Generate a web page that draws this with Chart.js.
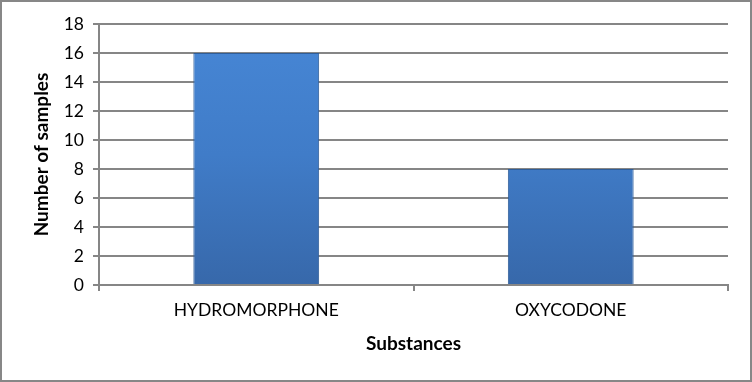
<!DOCTYPE html>
<html>
<head>
<meta charset="utf-8">
<script src="https://cdn.jsdelivr.net/npm/chart.js@4"></script>
<style>
  html, body { margin: 0; padding: 0; background: #fff; }
  #wrap { position: relative; width: 752px; height: 382px; box-sizing: border-box; border: 2px solid #878787; }
  canvas { position: absolute; left: -2px; top: -2px; }
</style>
</head>
<body>
<div id="wrap"><canvas id="chart" width="752" height="382"></canvas></div>
<script>
// Values
const substances = ['HYDROMORPHONE', 'OXYCODONE'];
const sampleCounts = [16, 8];
const yTicks = [0, 2, 4, 6, 8, 10, 12, 14, 16, 18];

const FONT = 'Lato, Carlito, Calibri, sans-serif';
const GRID = '#868686';

// Vertical gradient fill similar to the Excel bar style
function barFill(context) {
  const { chart } = context;
  const area = chart.chartArea;
  if (!area) return '#4080d0';
  const g = chart.ctx.createLinearGradient(0, area.top, 0, area.bottom);
  g.addColorStop(0, '#4787d6');
  g.addColorStop(0.5, '#407cc8');
  g.addColorStop(1, '#3768aa');
  return g;
}

const ctx = document.getElementById('chart').getContext('2d');

new Chart(ctx, {
  type: 'bar',
  data: {
    labels: substances,
    datasets: [{
      data: sampleCounts,
      backgroundColor: barFill,
      borderColor: '#2f5d98',
      borderWidth: 1,
      barPercentage: 0.8,
      categoryPercentage: 0.5,
    }],
  },
  options: {
    responsive: false,
    animation: false,
    layout: { padding: { top: 24, right: 24, left: 0, bottom: 0 } },
    plugins: {
      legend: { display: false },
      tooltip: { enabled: false },
    },
    scales: {
      x: {
        offset: true,
        afterFit: (scale) => { scale.height = 97; },
        grid: {
          offset: true,
          drawOnChartArea: false,
          drawTicks: true,
          tickLength: 6,
          color: GRID,
          lineWidth: 2,
        },
        border: { color: GRID, width: 2 },
        ticks: {
          padding: 9,
          color: '#000',
          font: { family: FONT, size: 17.5 },
          maxRotation: 0,
        },
        title: {
          display: true,
          text: 'Substances',
          color: '#000',
          font: { family: FONT, size: 19, weight: 'bold' },
          padding: { top: 0, bottom: 27 },
        },
      },
      y: {
        min: 0,
        max: 18,
        afterFit: (scale) => { scale.width = 99; },
        afterBuildTicks: (scale) => { scale.ticks = yTicks.map(v => ({ value: v })); },
        grid: {
          color: GRID,
          lineWidth: 2,
          tickLength: 6,
        },
        border: { color: GRID, width: 2 },
        ticks: {
          padding: 9,
          color: '#000',
          font: { family: FONT, size: 17.5 },
        },
        title: {
          display: true,
          text: 'Number of samples',
          color: '#000',
          font: { family: FONT, size: 19, weight: 'bold' },
          padding: { top: 30, bottom: 0 },
        },
      },
    },
  },
});
</script>
</body>
</html>
